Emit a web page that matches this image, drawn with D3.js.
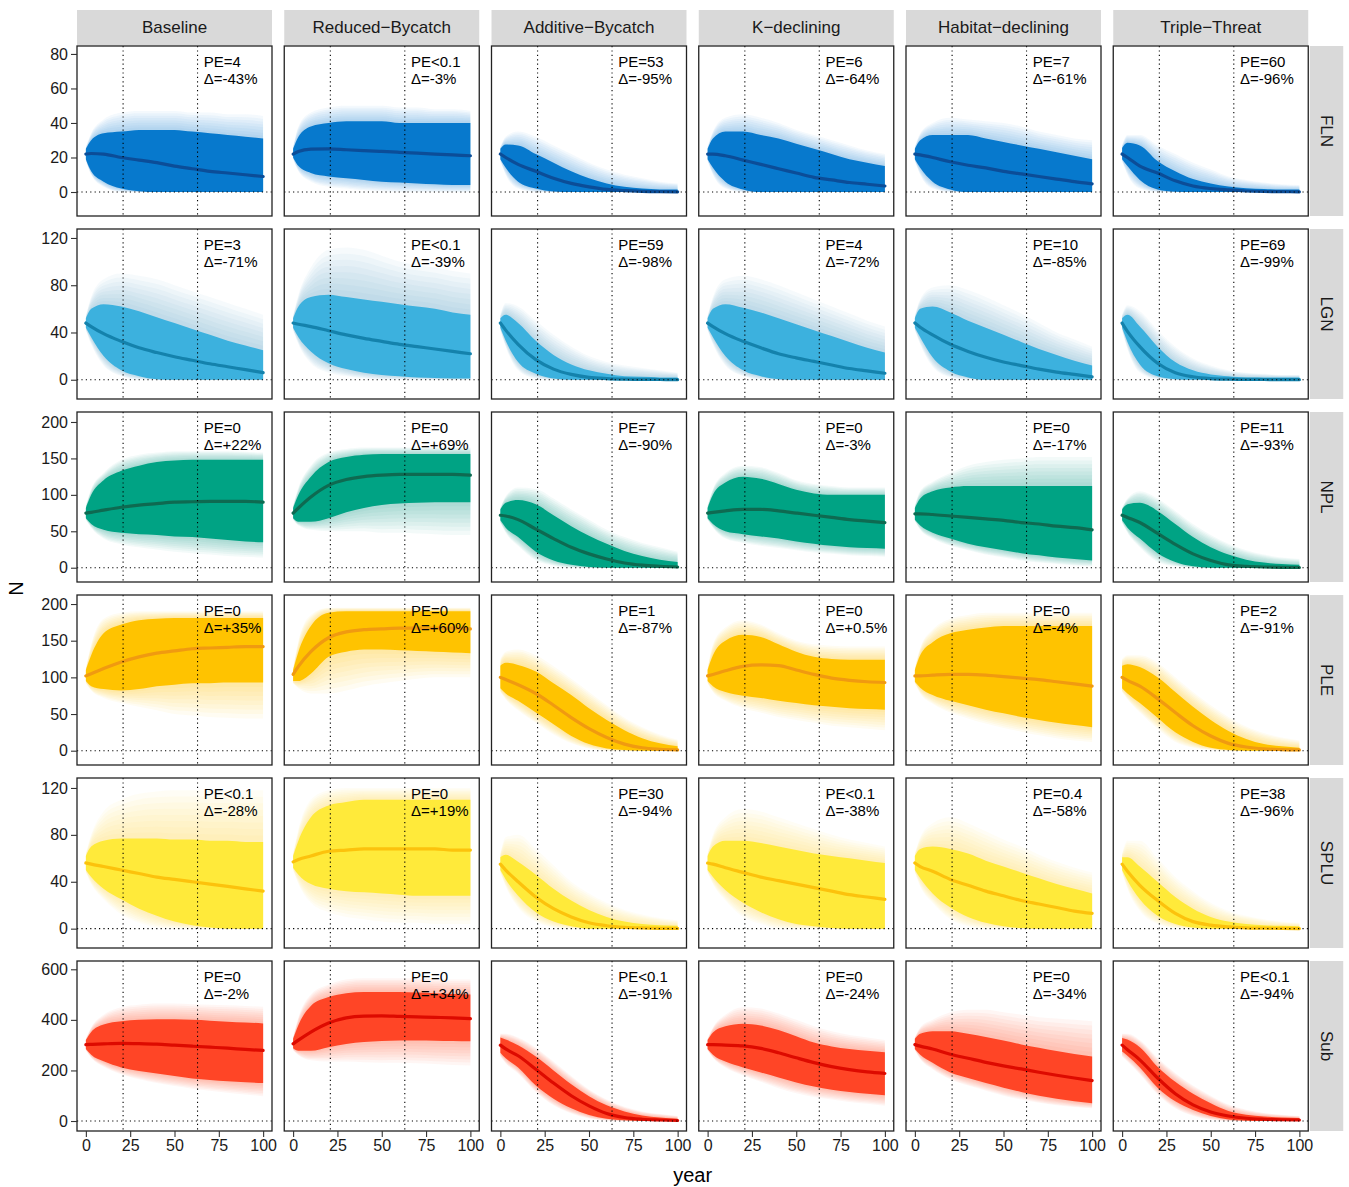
<!DOCTYPE html>
<html>
<head>
<meta charset="utf-8">
<script src="https://cdn.jsdelivr.net/npm/d3@7"></script>
<style>
  body { margin: 0; background: #ffffff; }
  svg text { font-family: "Liberation Sans", Arial, Helvetica, sans-serif; }
</style>
</head>
<body>
<svg id="chart" width="1349" height="1187"></svg>
<script>
// ---------------------------------------------------------------
// Projected abundance (N) over 100 years, 6 populations x 6 scenarios.
// Each panel: median trajectory, central simulation envelope (lo/hi)
// and the faint outer envelope of individual runs (fmin/fmax).
// ---------------------------------------------------------------
const years = [0, 3, 10, 20, 30, 40, 50, 60, 70, 80, 90, 100];
const scenarios = ["Baseline", "Reduced\u2212Bycatch", "Additive\u2212Bycatch", "K\u2212declining", "Habitat\u2212declining", "Triple\u2212Threat"];
const species = ["FLN", "LGN", "NPL", "PLE", "SPLU", "Sub"];
const xTicks = [0, 25, 50, 75, 100];
const markerYears = [21, 63];

const yTicksFLN = [0, 20, 40, 60, 80];
const yTicksLGN = [0, 40, 80, 120];
const yTicksNPL = [0, 50, 100, 150, 200];
const yTicksPLE = [0, 50, 100, 150, 200];
const yTicksSPLU = [0, 40, 80, 120];
const yTicksSub = [0, 200, 400, 600];
const yLimits = [[-13.9, 84.6], [-16.3, 127.6], [-19.6, 213.7], [-19.5, 212.3], [-16.5, 128.5], [-39.5, 632.8]];

// probability of extinction and % change labels, per population (scenario order)
const peFLN = ["=4", "<0.1", "=53", "=6", "=7", "=60"];
const peLGN = ["=3", "<0.1", "=59", "=4", "=10", "=69"];
const peNPL = ["=0", "=0", "=7", "=0", "=0", "=11"];
const pePLE = ["=0", "=0", "=1", "=0", "=0", "=2"];
const peSPLU = ["<0.1", "=0", "=30", "<0.1", "=0.4", "=38"];
const peSub = ["=0", "=0", "<0.1", "=0", "=0", "<0.1"];
const deltaFLN = ["-43%", "-3%", "-95%", "-64%", "-61%", "-96%"];
const deltaLGN = ["-71%", "-39%", "-98%", "-72%", "-85%", "-99%"];
const deltaNPL = ["+22%", "+69%", "-90%", "-3%", "-17%", "-93%"];
const deltaPLE = ["+35%", "+60%", "-87%", "+0.5%", "-4%", "-91%"];
const deltaSPLU = ["-28%", "+19%", "-94%", "-38%", "-58%", "-96%"];
const deltaSub = ["-2%", "+34%", "-91%", "-24%", "-34%", "-94%"];

// ---- FLN ----
const medFLN = [
  [22, 22.3, 22, 20, 18.5, 17, 15, 13.5, 12, 11, 10, 9],
  [22, 23.5, 24.8, 25, 24.5, 24, 23.5, 23, 22.5, 22, 21.5, 21],
  [22, 20, 16, 12, 8, 5, 3, 1.5, 0.8, 0.4, 0.2, 0.1],
  [22, 22, 21, 18.5, 16, 13.5, 11, 8.5, 7, 5.5, 4.5, 3.5],
  [22, 21.5, 20, 17.5, 15.5, 14, 12, 10.5, 9, 7.5, 6, 4.7],
  [22, 20, 15, 11, 6.5, 3.5, 2, 1.2, 0.6, 0.3, 0.2, 0.1]];
const loFLN = [
  [19, 12, 6, 2, 0.5, 0, 0, 0, 0, 0, 0, 0],
  [20, 15, 11, 9, 8, 7, 6, 5.5, 5, 4.5, 4, 4],
  [19, 14, 6, 2, 0.3, 0, 0, 0, 0, 0, 0, 0],
  [19, 14, 6, 1.5, 0, 0, 0, 0, 0, 0, 0, 0],
  [19, 14, 6, 1.5, 0, 0, 0, 0, 0, 0, 0, 0],
  [19, 15, 7, 1.5, 0.2, 0, 0, 0, 0, 0, 0, 0]];
const hiFLN = [
  [25, 30, 34, 35, 36, 36, 36, 35, 34, 33, 32, 31],
  [25, 32, 38, 40, 41, 41, 41, 40, 40, 40, 40, 40],
  [25, 27.5, 27, 22, 17, 12, 8, 5, 3, 2, 1.5, 1.5],
  [25, 31, 35, 35, 33, 31, 28, 25, 22, 19, 17, 15],
  [25, 30, 33, 33, 33, 31, 29, 27, 25, 23, 21, 19],
  [25.5, 28.5, 27, 18, 12, 7.5, 5, 3.2, 2.2, 1.8, 1.5, 1.5]];
const fmaxFLN = [
  [26, 34, 42, 46, 47, 47, 47, 46, 46, 45, 45, 44],
  [26, 38, 46, 49, 50, 50, 50, 49, 49, 48, 48, 47],
  [26, 32, 35, 32, 27, 22, 17, 13, 10, 8, 6, 5],
  [26, 35, 43, 45, 43, 40, 36, 33, 30, 27, 24, 22],
  [26, 34, 40, 43, 42, 41, 40, 38, 35, 33, 31, 30],
  [27, 33, 33, 27, 22, 17, 13, 9, 7, 5.5, 4.5, 4]];
const fminFLN = [
  [18, 10, 3, 0, 0, 0, 0, 0, 0, 0, 0, 0],
  [19, 12, 6, 3, 2, 1, 0.5, 0, 0, 0, 0, 0],
  [18, 10, 2, 0, 0, 0, 0, 0, 0, 0, 0, 0],
  [18, 10, 2, 0, 0, 0, 0, 0, 0, 0, 0, 0],
  [18, 10, 2, 0, 0, 0, 0, 0, 0, 0, 0, 0],
  [18, 10, 2, 0, 0, 0, 0, 0, 0, 0, 0, 0]];

// ---- LGN ----
const medLGN = [
  [48, 45, 39, 32.5, 27, 23, 19.5, 16.5, 13.5, 11, 8.5, 6],
  [48, 47, 45, 41.5, 38, 35, 32.5, 30, 28, 26, 24, 22],
  [48, 42, 30, 17, 9, 4.5, 2, 1, 0.5, 0.3, 0.2, 0.1],
  [48, 45, 39, 32.5, 27, 22, 18.5, 15.5, 12.5, 9.5, 7.5, 5.5],
  [48, 44.5, 38, 30, 24, 19, 15, 12, 9, 6.5, 4.5, 2.5],
  [48, 41, 28, 14, 6, 2.5, 1, 0.5, 0.3, 0.2, 0.1, 0.1]];
const loLGN = [
  [44, 36, 20, 8, 3, 0.5, 0, 0, 0, 0, 0, 0],
  [44, 36, 24, 14, 9, 6, 4, 3, 2, 1.5, 1, 1],
  [44, 33, 15, 5, 1, 0, 0, 0, 0, 0, 0, 0],
  [44, 36, 20, 8, 3, 0.5, 0, 0, 0, 0, 0, 0],
  [44, 36, 19, 7, 2, 0, 0, 0, 0, 0, 0, 0],
  [44, 32, 13, 3, 0.5, 0, 0, 0, 0, 0, 0, 0]];
const hiLGN = [
  [52, 60, 64, 62, 58, 53, 48, 43, 38, 33, 29, 25],
  [52, 62, 70, 72, 70, 68, 66, 64, 62, 60, 57, 55],
  [52, 55, 48, 33, 21, 13, 8, 5, 3, 2.5, 2, 2],
  [52, 60, 64, 61, 57, 52, 47, 42, 37, 32, 27, 23],
  [52, 60, 62, 57, 50, 44, 38, 32, 26, 21, 16, 12],
  [52, 55, 45, 28, 15, 8, 4.5, 3, 2, 2, 2, 2]];
const fmaxLGN = [
  [54, 70, 85, 90, 88, 85, 80, 75, 70, 65, 60, 55],
  [54, 72, 95, 110, 112, 110, 105, 100, 97, 95, 92, 90],
  [55, 65, 62, 50, 38, 28, 20, 15, 12, 10, 8, 6],
  [54, 70, 85, 88, 85, 80, 74, 68, 62, 56, 50, 45],
  [54, 68, 78, 80, 76, 70, 63, 56, 48, 40, 34, 28],
  [55, 63, 58, 42, 28, 18, 12, 8, 6, 5, 4, 4]];
const fminLGN = [
  [42, 30, 12, 3, 0, 0, 0, 0, 0, 0, 0, 0],
  [42, 30, 14, 6, 3, 1, 0, 0, 0, 0, 0, 0],
  [42, 28, 8, 1, 0, 0, 0, 0, 0, 0, 0, 0],
  [42, 30, 12, 3, 0, 0, 0, 0, 0, 0, 0, 0],
  [42, 30, 11, 2, 0, 0, 0, 0, 0, 0, 0, 0],
  [42, 26, 6, 0.5, 0, 0, 0, 0, 0, 0, 0, 0]];

// ---- NPL ----
const medNPL = [
  [75, 76, 79, 83, 86, 88, 90, 90.5, 91, 91, 91, 90],
  [75, 82, 97, 113, 121, 125, 127, 128, 128, 128, 128, 127],
  [72, 71, 66, 53, 40, 28, 19, 12, 6.5, 3.5, 2, 1],
  [75, 76, 78, 80, 80, 78, 75, 72, 69, 66, 64, 62],
  [74, 74, 73, 71, 69, 67, 65, 62, 60, 57, 55, 52],
  [72, 69, 62, 47, 32, 19, 10, 4, 2, 1, 0.5, 0.3]];
const loNPL = [
  [68, 60, 52, 48, 46, 45, 43, 42, 40, 38, 36, 35],
  [68, 63, 63, 68, 76, 82, 86, 88, 89, 90, 90, 90],
  [65, 55, 42, 22, 10, 4, 1, 0, 0, 0, 0, 0],
  [68, 60, 50, 46, 43, 40, 36, 33, 30, 28, 27, 26],
  [66, 58, 48, 40, 33, 28, 24, 20, 17, 14, 12, 10],
  [65, 55, 40, 20, 8, 2, 0, 0, 0, 0, 0, 0]];
const hiNPL = [
  [82, 100, 120, 133, 140, 145, 147, 148, 148, 148, 148, 148],
  [82, 100, 125, 145, 152, 155, 156, 156, 156, 156, 156, 156],
  [80, 89, 93, 87, 72, 57, 44, 33, 23, 16, 11, 8],
  [82, 100, 117, 125, 122, 115, 107, 102, 100, 100, 100, 100],
  [82, 95, 105, 110, 112, 112, 112, 112, 112, 112, 112, 112],
  [80, 87, 89, 78, 60, 42, 28, 18, 11, 7, 5, 4]];
const fmaxNPL = [
  [85, 108, 130, 148, 155, 158, 160, 160, 160, 160, 159, 158],
  [85, 110, 140, 158, 163, 165, 165, 165, 165, 165, 165, 165],
  [82, 98, 110, 108, 95, 80, 66, 52, 42, 34, 28, 22],
  [85, 108, 130, 140, 138, 130, 120, 115, 112, 110, 110, 110],
  [85, 105, 118, 130, 140, 145, 148, 150, 152, 152, 152, 152],
  [82, 95, 105, 95, 78, 60, 45, 33, 24, 18, 14, 12]];
const fminNPL = [
  [66, 55, 40, 32, 28, 25, 22, 20, 18, 16, 15, 14],
  [66, 58, 52, 50, 50, 50, 48, 48, 47, 46, 45, 45],
  [62, 48, 30, 10, 3, 0, 0, 0, 0, 0, 0, 0],
  [66, 55, 40, 34, 30, 27, 24, 21, 19, 17, 16, 15],
  [64, 52, 40, 30, 24, 18, 14, 10, 7, 5, 3, 2],
  [62, 48, 28, 8, 2, 0, 0, 0, 0, 0, 0, 0]];

// ---- PLE ----
const medPLE = [
  [102, 105, 112, 121, 128, 133, 136, 139, 140, 141, 142, 142],
  [104, 115, 135, 154, 162, 165, 166, 167, 167, 167, 167, 166],
  [100, 97, 90, 78, 62, 45, 30, 18, 9, 4, 2, 1],
  [102, 104, 109, 115, 117, 116, 110, 104, 99, 96, 94, 93],
  [102, 102, 103, 104, 104, 103, 101, 99, 97, 94, 91, 88],
  [100, 96, 88, 71, 52, 34, 20, 10, 5, 2.5, 1.5, 1]];
const loPLE = [
  [95, 88, 84, 82, 84, 88, 90, 92, 92, 93, 93, 93],
  [95, 95, 105, 128, 135, 138, 138, 137, 136, 135, 134, 133],
  [85, 78, 68, 52, 36, 20, 9, 3, 1, 0, 0, 0],
  [95, 88, 80, 75, 72, 68, 65, 62, 60, 58, 57, 56],
  [94, 86, 76, 68, 62, 56, 51, 46, 42, 38, 35, 32],
  [85, 78, 65, 45, 25, 12, 4, 1, 0, 0, 0, 0]];
const hiPLE = [
  [110, 130, 160, 172, 178, 180, 181, 181, 181, 181, 181, 181],
  [110, 135, 170, 188, 190, 190, 190, 190, 190, 190, 190, 190],
  [116, 120, 117, 108, 92, 76, 58, 42, 28, 17, 10, 6],
  [110, 130, 150, 158, 155, 145, 135, 128, 125, 124, 124, 124],
  [110, 130, 148, 160, 165, 168, 170, 170, 170, 170, 170, 170],
  [116, 118, 114, 100, 80, 60, 42, 27, 16, 9, 6, 4]];
const fmaxPLE = [
  [112, 145, 180, 188, 190, 190, 190, 190, 190, 190, 190, 190],
  [112, 150, 185, 195, 195, 195, 195, 195, 195, 195, 195, 195],
  [125, 135, 138, 130, 115, 98, 80, 62, 45, 32, 22, 15],
  [112, 145, 168, 178, 172, 160, 150, 145, 143, 142, 142, 142],
  [112, 140, 165, 180, 185, 188, 188, 188, 188, 188, 188, 188],
  [125, 130, 130, 120, 100, 80, 62, 46, 33, 24, 18, 14]];
const fminPLE = [
  [92, 82, 72, 65, 60, 55, 50, 48, 46, 45, 44, 44],
  [92, 85, 78, 78, 82, 88, 92, 95, 98, 100, 100, 100],
  [80, 70, 55, 38, 22, 10, 3, 0, 0, 0, 0, 0],
  [92, 80, 68, 58, 52, 46, 42, 38, 34, 32, 30, 28],
  [92, 78, 64, 52, 44, 37, 31, 26, 21, 17, 14, 12],
  [80, 70, 52, 30, 12, 4, 1, 0, 0, 0, 0, 0]];

// ---- SPLU ----
const medSPLU = [
  [56, 55, 53, 50, 47, 44, 42, 40, 38, 36, 34, 32],
  [57, 59, 62, 66, 67, 68, 68, 68, 68, 68, 67, 67],
  [55, 50, 40, 27, 17, 10, 5, 2.5, 1.2, 0.6, 0.3, 0.2],
  [56, 55, 52, 48, 44, 41, 38, 35, 32, 29, 27, 25],
  [56, 53, 49, 42, 37, 32, 28, 24, 21, 18, 15, 13],
  [55, 49, 37, 24, 13, 6, 3, 1.5, 0.7, 0.4, 0.2, 0.1]];
const loSPLU = [
  [50, 44, 34, 25, 17, 11, 6, 3, 1, 0, 0, 0],
  [52, 46, 38, 34, 32, 31, 30, 29, 28, 28, 28, 28],
  [50, 42, 28, 14, 6, 2, 0, 0, 0, 0, 0, 0],
  [50, 44, 33, 22, 14, 8, 4, 2, 0.5, 0, 0, 0],
  [50, 43, 30, 18, 10, 5, 2, 0.5, 0, 0, 0, 0],
  [50, 41, 25, 11, 4, 1, 0, 0, 0, 0, 0, 0]];
const hiSPLU = [
  [62, 70, 75, 77, 77, 77, 76, 76, 75, 75, 74, 74],
  [62, 75, 95, 105, 108, 110, 110, 110, 110, 110, 110, 110],
  [61, 63, 57, 46, 34, 24, 16, 10, 6, 4, 3, 2.5],
  [62, 70, 75, 75, 73, 70, 67, 64, 62, 60, 58, 56],
  [62, 68, 70, 68, 64, 58, 53, 48, 43, 38, 34, 30],
  [61, 61, 53, 40, 27, 17, 10, 6, 4, 3, 2.5, 2]];
const fmaxSPLU = [
  [64, 80, 100, 110, 115, 117, 118, 118, 118, 118, 118, 118],
  [64, 85, 110, 118, 120, 120, 120, 120, 120, 120, 120, 120],
  [64, 78, 80, 68, 54, 40, 30, 22, 16, 12, 9, 7],
  [64, 80, 95, 102, 100, 95, 90, 85, 80, 76, 73, 70],
  [64, 78, 90, 95, 90, 83, 76, 70, 63, 57, 52, 48],
  [64, 75, 75, 60, 44, 32, 22, 15, 11, 8, 6, 5]];
const fminSPLU = [
  [48, 38, 25, 12, 5, 1, 0, 0, 0, 0, 0, 0],
  [50, 38, 22, 14, 10, 8, 6, 5, 5, 4, 4, 4],
  [48, 36, 18, 6, 1, 0, 0, 0, 0, 0, 0, 0],
  [48, 38, 24, 10, 4, 0, 0, 0, 0, 0, 0, 0],
  [48, 36, 22, 8, 2, 0, 0, 0, 0, 0, 0, 0],
  [48, 34, 15, 4, 0.5, 0, 0, 0, 0, 0, 0, 0]];

// ---- Sub ----
const medSub = [
  [302, 303, 305, 307, 306, 304, 300, 296, 292, 288, 283, 279],
  [305, 320, 352, 388, 408, 415, 416, 414, 412, 410, 408, 405],
  [300, 285, 258, 205, 150, 100, 60, 30, 14, 7, 4, 2],
  [302, 302, 300, 297, 287, 270, 250, 231, 215, 203, 194, 188],
  [302, 296, 285, 264, 248, 232, 218, 206, 193, 181, 170, 160],
  [300, 282, 242, 170, 108, 64, 36, 20, 11, 7, 5, 4]];
const loSub = [
  [285, 262, 236, 212, 198, 188, 178, 168, 162, 157, 153, 150],
  [288, 278, 278, 292, 305, 312, 316, 318, 318, 317, 316, 315],
  [270, 248, 212, 140, 88, 50, 24, 9, 3, 0.5, 0, 0],
  [285, 262, 235, 212, 192, 172, 152, 136, 124, 115, 108, 102],
  [285, 262, 230, 192, 170, 150, 132, 115, 100, 88, 78, 70],
  [275, 258, 212, 132, 78, 44, 20, 6, 1, 0, 0, 0]];
const hiSub = [
  [320, 352, 382, 395, 400, 402, 402, 400, 397, 393, 390, 386],
  [325, 380, 455, 490, 505, 510, 510, 510, 508, 505, 502, 500],
  [330, 322, 300, 255, 200, 145, 98, 62, 38, 22, 14, 9],
  [320, 350, 375, 385, 378, 360, 335, 310, 295, 285, 278, 272],
  [325, 345, 355, 355, 345, 332, 318, 303, 290, 277, 265, 255],
  [328, 322, 292, 215, 155, 108, 70, 40, 25, 18, 14, 12]];
const fmaxSub = [
  [325, 370, 420, 450, 460, 465, 465, 462, 460, 458, 455, 452],
  [330, 410, 500, 540, 560, 565, 565, 565, 565, 562, 560, 560],
  [345, 345, 330, 290, 235, 178, 125, 85, 56, 38, 28, 20],
  [325, 370, 420, 450, 445, 425, 400, 375, 355, 340, 330, 320],
  [330, 370, 400, 430, 440, 440, 430, 420, 410, 405, 400, 395],
  [345, 345, 320, 250, 190, 140, 100, 65, 45, 32, 25, 20]];
const fminSub = [
  [280, 250, 215, 185, 165, 150, 138, 128, 120, 112, 105, 98],
  [280, 260, 240, 235, 235, 232, 230, 230, 228, 225, 222, 220],
  [255, 228, 188, 115, 62, 30, 10, 2, 0, 0, 0, 0],
  [280, 250, 212, 180, 155, 130, 110, 95, 85, 75, 68, 60],
  [280, 245, 205, 165, 140, 120, 100, 85, 72, 62, 55, 50],
  [255, 235, 185, 105, 50, 20, 5, 0, 0, 0, 0, 0]];

// population colours: envelope fill, outer fringe, median line
const bandColors = ["#0779cd", "#3cb1de", "#00a384", "#ffc300", "#ffea3a", "#ff4526"];
const fringeColors = ["#2f8ad4", "#5aa3c9", "#1ea68c", "#ffc21a", "#ffe24a", "#ff5a3c"];
const lineColors = ["#0b4d98", "#1482ac", "#0e6a51", "#f09a10", "#fcc20c", "#dd0a00"];

// gather per-population tables
const tables = {
  FLN: { med: medFLN, lo: loFLN, hi: hiFLN, fmax: fmaxFLN, fmin: fminFLN, pe: peFLN, delta: deltaFLN, ticks: yTicksFLN },
  LGN: { med: medLGN, lo: loLGN, hi: hiLGN, fmax: fmaxLGN, fmin: fminLGN, pe: peLGN, delta: deltaLGN, ticks: yTicksLGN },
  NPL: { med: medNPL, lo: loNPL, hi: hiNPL, fmax: fmaxNPL, fmin: fminNPL, pe: peNPL, delta: deltaNPL, ticks: yTicksNPL },
  PLE: { med: medPLE, lo: loPLE, hi: hiPLE, fmax: fmaxPLE, fmin: fminPLE, pe: pePLE, delta: deltaPLE, ticks: yTicksPLE },
  SPLU: { med: medSPLU, lo: loSPLU, hi: hiSPLU, fmax: fmaxSPLU, fmin: fminSPLU, pe: peSPLU, delta: deltaSPLU, ticks: yTicksSPLU },
  Sub: { med: medSub, lo: loSub, hi: hiSub, fmax: fmaxSub, fmin: fminSub, pe: peSub, delta: deltaSub, ticks: yTicksSub }
};

// ---------------- layout ----------------
const panelLeft = 77, panelTop = 46;
const panelW = 195, panelH = 170;
const colStep = 207.25, rowStep = 183;
const stripTop = 10, stripH = 35.5;
const sideStripGap = 1.5, sideStripW = 33.5;

const svg = d3.select("#chart");
svg.append("rect").attr("width", 1349).attr("height", 1187).attr("fill", "#ffffff");

svg.append("defs").append("clipPath").attr("id", "panel-clip")
  .append("rect").attr("x", 0).attr("y", 0).attr("width", panelW).attr("height", panelH);

const x = d3.scaleLinear().domain([-5, 105]).range([0, panelW]);

// column strips
scenarios.forEach((name, c) => {
  const gx = panelLeft + c * colStep;
  svg.append("rect").attr("x", gx).attr("y", stripTop).attr("width", panelW).attr("height", stripH)
    .attr("fill", "#d9d9d9");
  svg.append("text").attr("x", gx + panelW / 2).attr("y", stripTop + stripH / 2)
    .attr("text-anchor", "middle").attr("dominant-baseline", "central")
    .attr("font-size", 17).attr("fill", "#1a1a1a").text(name);
});

// outer envelope drawn as stacked translucent shells fading outward
const fringeSteps = d3.range(1, 0, -0.125);

species.forEach((sp, r) => {
  const t = tables[sp];
  const gy = panelTop + r * rowStep;
  const y = d3.scaleLinear().domain(yLimits[r]).range([panelH, 0]);

  // row strip on the right
  const sx = panelLeft + 5 * colStep + panelW + sideStripGap;
  svg.append("rect").attr("x", sx).attr("y", gy).attr("width", sideStripW).attr("height", panelH)
    .attr("fill", "#d9d9d9");
  svg.append("text")
    .attr("transform", `translate(${sx + sideStripW / 2},${gy + panelH / 2}) rotate(90)`)
    .attr("text-anchor", "middle").attr("dominant-baseline", "central")
    .attr("font-size", 17).attr("fill", "#1a1a1a").text(sp);

  scenarios.forEach((scen, c) => {
    const gx = panelLeft + c * colStep;
    const g = svg.append("g").attr("transform", `translate(${gx},${gy})`);
    const inner = g.append("g").attr("clip-path", "url(#panel-clip)");

    const rows = years.map((yr, i) => ({
      year: yr, med: t.med[c][i], lo: t.lo[c][i], hi: t.hi[c][i],
      fmin: t.fmin[c][i], fmax: t.fmax[c][i]
    }));

    fringeSteps.forEach(k => {
      const area = d3.area()
        .x(d => x(d.year))
        .y0(d => y(d.lo + (d.fmin - d.lo) * k))
        .y1(d => y(d.hi + (d.fmax - d.hi) * k))
        .curve(d3.curveMonotoneX);
      inner.append("path").datum(rows).attr("d", area)
        .attr("fill", fringeColors[r]).attr("fill-opacity", 0.055);
    });

    // central envelope
    const band = d3.area()
      .x(d => x(d.year)).y0(d => y(d.lo)).y1(d => y(d.hi))
      .curve(d3.curveMonotoneX);
    inner.append("path").datum(rows).attr("d", band).attr("fill", bandColors[r]);

    // median trajectory
    const line = d3.line().x(d => x(d.year)).y(d => y(d.med)).curve(d3.curveMonotoneX);
    inner.append("path").datum(rows).attr("d", line)
      .attr("fill", "none").attr("stroke", lineColors[r]).attr("stroke-width", 3.2)
      .attr("stroke-linecap", "round");

    // reference lines
    markerYears.forEach(yr => {
      inner.append("line").attr("x1", x(yr)).attr("x2", x(yr)).attr("y1", 0).attr("y2", panelH)
        .attr("stroke", "#000").attr("stroke-width", 1.1).attr("stroke-dasharray", "1.2,3.2");
    });
    inner.append("line").attr("x1", 0).attr("x2", panelW).attr("y1", y(0)).attr("y2", y(0))
      .attr("stroke", "#000").attr("stroke-width", 1.1).attr("stroke-dasharray", "1.2,3.2");

    // labels
    const lx = x(66.5);
    g.append("text").attr("x", lx).attr("y", 15).attr("dominant-baseline", "central")
      .attr("font-size", 15).attr("fill", "#000").text("PE" + t.pe[c]);
    g.append("text").attr("x", lx).attr("y", 32.5).attr("dominant-baseline", "central")
      .attr("font-size", 15).attr("fill", "#000").text("\u0394=" + t.delta[c]);

    // panel border
    g.append("rect").attr("x", 0).attr("y", 0).attr("width", panelW).attr("height", panelH)
      .attr("fill", "none").attr("stroke", "#222").attr("stroke-width", 1.3);

    // y axis on first column
    if (c === 0) {
      const ax = g.append("g").call(d3.axisLeft(y).tickValues(t.ticks).tickSize(6).tickPadding(3));
      ax.select(".domain").remove();
      ax.selectAll(".tick line").attr("stroke", "#333").attr("stroke-width", 1.1);
      ax.selectAll(".tick text").attr("font-size", 16).attr("fill", "#1a1a1a")
        .attr("font-family", "'Liberation Sans', Arial, Helvetica, sans-serif");
    }
    // x axis on bottom row
    if (r === species.length - 1) {
      const ax = g.append("g").attr("transform", `translate(0,${panelH})`)
        .call(d3.axisBottom(x).tickValues(xTicks).tickSize(6).tickPadding(3));
      ax.select(".domain").remove();
      ax.selectAll(".tick line").attr("stroke", "#333").attr("stroke-width", 1.1);
      ax.selectAll(".tick text").attr("font-size", 16).attr("fill", "#1a1a1a")
        .attr("font-family", "'Liberation Sans', Arial, Helvetica, sans-serif");
    }
  });
});

// axis titles
const plotMidX = panelLeft + (5 * colStep + panelW) / 2;
const plotMidY = panelTop + (5 * rowStep + panelH) / 2;
svg.append("text").attr("x", plotMidX).attr("y", 1175).attr("text-anchor", "middle")
  .attr("dominant-baseline", "central").attr("font-size", 20).attr("fill", "#000").text("year");
svg.append("text").attr("transform", `translate(16,${plotMidY}) rotate(-90)`)
  .attr("text-anchor", "middle").attr("dominant-baseline", "central")
  .attr("font-size", 20).attr("fill", "#000").text("N");
</script>
</body>
</html>
